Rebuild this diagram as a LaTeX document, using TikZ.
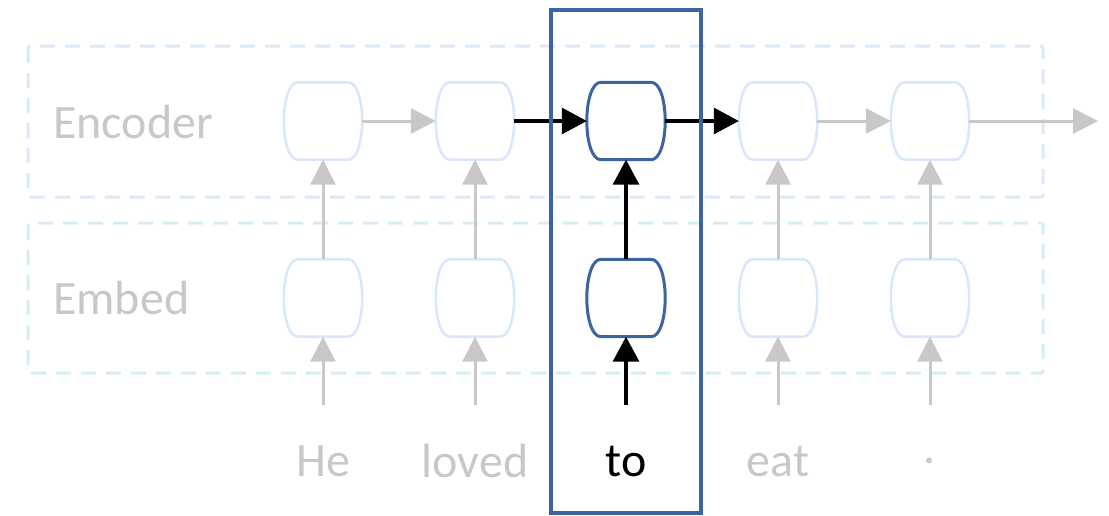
\documentclass[tikz,border=0pt]{standalone}
\usepackage{fontspec}
\setmainfont{Carlito}
\usetikzlibrary{arrows.meta}
\definecolor{faint}{HTML}{C8C8C8}
\definecolor{encdash}{HTML}{DCE8FB}
\definecolor{embdash}{HTML}{D5EEF6}
\definecolor{fadenode}{HTML}{DAE6FC}
\definecolor{hiblue}{HTML}{3B64A0}
\newcommand\barrel[2]{%
  \draw[#2] ([xshift=14pt]#1.north west) -- ([xshift=-14pt]#1.north east)
    .. controls ([xshift=-5pt]#1.north east) and ([yshift=-19pt]#1.north east) .. (#1.east)
    .. controls ([yshift=19pt]#1.south east) and ([xshift=-5pt]#1.south east) .. ([xshift=-14pt]#1.south east)
    -- ([xshift=14pt]#1.south west)
    .. controls ([xshift=5pt]#1.south west) and ([yshift=19pt]#1.south west) .. (#1.west)
    .. controls ([yshift=-19pt]#1.north west) and ([xshift=5pt]#1.north west) .. cycle;}
\tikzset{
  cell/.style={minimum width=78pt, minimum height=77pt, inner sep=0pt, draw=none},
  fadecell/.style={line width=2.5pt, draw=fadenode},
  hicell/.style={line width=3pt, draw=hiblue},
  grayarrow/.style={line width=3pt, draw=faint, -{Triangle[length=25pt,width=25pt]}, faint},
  blackarrow/.style={line width=3.2pt, draw=black, -{Triangle[length=25pt,width=26pt]}},
  word/.style={font=\fontsize{48}{56}\selectfont, text=faint, inner sep=0pt},
  label/.style={font=\fontsize{48}{56}\selectfont, text=faint, inner sep=0pt, anchor=west},
  dashbox/.style={line width=3pt, dash pattern=on 15pt off 10pt, rounded corners=2pt}
}
\begin{document}
\begin{tikzpicture}[x=1pt,y=-1pt]
\useasboundingbox (0,0) rectangle (1109,515);
% dashed group boxes
\draw[dashbox, draw=encdash] (28,46) rectangle (1043,197);
\draw[dashbox, draw=embdash] (28,223) rectangle (1043,373);
\node[label] (enc) at (53,122) {Encoder};
\node[label] (emb) at (53,298) {Embed};
% cells
\foreach \i/\x in {1/323,2/475,3/626,4/778,5/930}{
  \node[cell] (e\i) at (\x,121) {};
  \node[cell] (m\i) at (\x,298) {};
  \coordinate (s\i) at (\x,405);
}
\coordinate (out) at (1098,121);
% words
\node[word] (w1) at (323,461) {He};
\node[word] (w2) at (475,461) {loved};
\node[word, text=black] (w3) at (626,461) {to};
\node[word] (w4) at (778,461) {eat};
\node[word] (w5) at (930,461) {.};
% nodes shapes
\foreach \i in {1,2,4,5}{
  \barrel{e\i}{fadecell}
  \barrel{m\i}{fadecell}
}
\barrel{e3}{hicell}
\barrel{m3}{hicell}
% arrows
\draw[grayarrow] (e1) -- (e2);
\draw[blackarrow] (e2) -- (e3);
\draw[blackarrow] (e3) -- (e4);
\draw[grayarrow] (e4) -- (e5);
\draw[grayarrow] (e5) -- (out);
\foreach \i in {1,2,4,5}{
  \draw[grayarrow] (m\i) -- (e\i);
  \draw[grayarrow] (s\i) -- (m\i);
}
\draw[blackarrow] (m3) -- (e3);
\draw[blackarrow] (s3) -- (m3);
% highlight box
\node[draw=hiblue, line width=4pt, minimum width=150pt, minimum height=503pt, inner sep=0pt] (hi) at (626,261) {};
\end{tikzpicture}
\end{document}
